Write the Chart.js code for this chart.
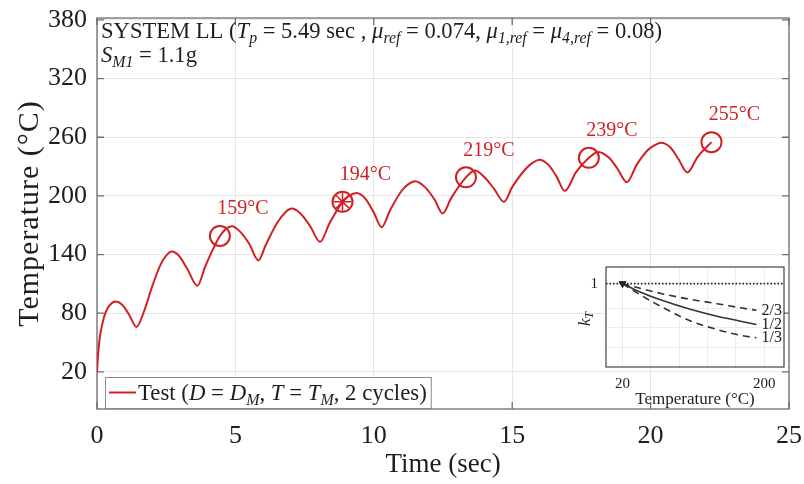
<!DOCTYPE html>
<html><head><meta charset="utf-8">
<script src="https://cdn.jsdelivr.net/npm/chart.js@4.4.1/dist/chart.umd.min.js"></script>
<style>
html,body{margin:0;padding:0;background:#fff;}
#wrap{position:relative;width:804px;height:484px;overflow:hidden;}
#main{position:absolute;left:0;top:0;}
#inset{position:absolute;left:560px;top:258px;}
</style></head><body>
<div id="wrap"><canvas id="main" width="804" height="484"></canvas><canvas id="inset" width="234" height="160"></canvas></div>
<script>
// ---- data ----
const timeSec = [0, 0.04, 0.1, 0.2, 0.3, 0.45, 0.67, 0.9, 1.15, 1.43,
  1.7, 2.0, 2.3, 2.5, 2.7, 2.95, 3.25, 3.63,
  3.9, 4.2, 4.44, 4.65, 4.87, 5.15, 5.5, 5.83,
  6.1, 6.5, 6.8, 7.03, 7.35, 7.7, 8.06,
  8.4, 8.87, 9.1, 9.38, 9.7, 10.0, 10.28,
  10.6, 11.0, 11.25, 11.5, 11.85, 12.2, 12.49,
  12.8, 13.33, 13.66, 14.0, 14.35, 14.7,
  15.0, 15.5, 15.75, 15.98, 16.3, 16.6, 16.9,
  17.3, 17.77, 18.11, 18.5, 18.8, 19.14,
  19.5, 19.9, 20.15, 20.38, 20.7, 21.0, 21.33,
  21.7, 22.2];
const tempC = [20, 38, 55, 70, 80, 88, 92, 89, 79, 66,
  82, 108, 130, 139, 143, 139, 126, 108,
  127, 146, 159, 166, 169, 164, 151, 134,
  150, 172, 183, 187, 182, 169, 153,
  172, 194, 200, 203, 197, 183, 168,
  186, 205, 212, 215, 209, 196, 182,
  198, 219, 226, 219, 207, 194,
  209, 228, 234, 237, 232, 220, 205,
  224, 239, 245, 239, 228, 214,
  232, 247, 252, 254.5, 250, 238, 224,
  240, 255];
const markerTimes = [4.44, 8.87, 13.33, 17.77, 22.2];
const markerTemps = [159, 194, 219, 239, 255];
const markerLabels = ['159°C', '194°C', '219°C', '239°C', '255°C'];
const starIndex = 1;
const yTicks = [20, 80, 140, 200, 260, 320, 380];
const xTicks = [0, 5, 10, 15, 20, 25];
const legendLabel = 'Test (D = D_M, T = T_M, 2 cycles)';

// inset (k_T vs temperature)
const insetTemp = [20, 40, 70, 107, 140, 170, 190];
const kTTwoThirds = [1, 0.975, 0.94, 0.905, 0.88, 0.855, 0.84];
const kTHalf = [1, 0.955, 0.9, 0.845, 0.805, 0.775, 0.755];
const kTOneThird = [1, 0.94, 0.86, 0.775, 0.725, 0.69, 0.675];
const insetCurveLabels = ['2/3', '1/2', '1/3'];
const insetXTicks = [20, 56, 92, 128, 164, 200];
const insetYTicks = [0.62, 0.735, 0.85, 1];

const RED = '#d02024';
const SERIF = '"Liberation Serif", "Times New Roman", serif';
const TXT = '#1e1e1e';

function richText(ctx, x, y, runs, size) {
  for (const [t, st] of runs) {
    const sub = st === 'sub' || st === 'subi';
    const it = st === 'i' || st === 'subi';
    const fs = sub ? size * 0.7 : size;
    ctx.font = (it ? 'italic ' : '') + fs + 'px ' + SERIF;
    ctx.fillText(t, x, sub ? y + size * 0.22 : y);
    x += ctx.measureText(t).width;
  }
  return x;
}

const mainPlugin = {
  id: 'mainDecor',
  beforeDatasetsDraw(chart) {
    const {ctx, chartArea: a} = chart;
    ctx.save();
    ctx.strokeStyle = '#6e6e6e';
    ctx.lineWidth = 1.3;
    ctx.strokeRect(a.left, a.top, a.right - a.left, a.bottom - a.top);
    const xs = chart.scales.x, ys = chart.scales.y;
    ctx.beginPath();
    xTicks.forEach(v => {
      const p = xs.getPixelForValue(v);
      ctx.moveTo(p, a.bottom); ctx.lineTo(p, a.bottom - 7);
      ctx.moveTo(p, a.top); ctx.lineTo(p, a.top + 7);
    });
    yTicks.forEach(v => {
      const p = ys.getPixelForValue(v);
      ctx.moveTo(a.left, p); ctx.lineTo(a.left + 7, p);
      ctx.moveTo(a.right, p); ctx.lineTo(a.right - 7, p);
    });
    ctx.stroke();
    ctx.restore();
  },
  afterDraw(chart) {
    const {ctx, chartArea: a} = chart;
    const xs = chart.scales.x, ys = chart.scales.y;
    ctx.save();
    ctx.fillStyle = TXT;
    ctx.textBaseline = 'alphabetic';
    richText(ctx, 101, 38, [['SYSTEM LL (', 'n'], ['T', 'i'], ['p', 'subi'], [' = 5.49 sec , ', 'n'],
      ['μ', 'i'], ['ref', 'subi'], [' = 0.074, ', 'n'], ['μ', 'i'], ['1,ref', 'subi'], [' = ', 'n'],
      ['μ', 'i'], ['4,ref', 'subi'], [' = 0.08)', 'n']], 22.6);
    richText(ctx, 101, 62, [['S', 'i'], ['M1', 'subi'], [' = 1.1g', 'n']], 22.6);
    ctx.fillStyle = RED;
    ctx.font = '20px ' + SERIF;
    ctx.textAlign = 'center';
    ctx.textBaseline = 'middle';
    markerTimes.forEach((t, i) => {
      ctx.fillText(markerLabels[i], xs.getPixelForValue(t) + 23, ys.getPixelForValue(markerTemps[i]) - 27);
    });
    ctx.fillStyle = TXT;
    ctx.font = '27px ' + SERIF;
    ctx.fillText('Time (sec)', (a.left + a.right) / 2, 465);
    ctx.save();
    ctx.translate(30, (a.top + a.bottom) / 2);
    ctx.rotate(-Math.PI / 2);
    ctx.font = '30px ' + SERIF;
    ctx.letterSpacing = '1px';
    ctx.fillText('Temperature (°C)', 0, 0);
    ctx.restore();
    ctx.textAlign = 'left';
    ctx.textBaseline = 'alphabetic';
    const lx = 105, ly = 377, lh = 31;
    const tmp = document.createElement('canvas').getContext('2d');
    const runs = [['Test (', 'n'], ['D', 'i'], [' = ', 'n'], ['D', 'i'], ['M', 'subi'], [', ', 'n'],
      ['T', 'i'], [' = ', 'n'], ['T', 'i'], ['M', 'subi'], [', 2 cycles)', 'n']];
    const endX = richText(tmp, 138, 0, runs, 22.8);
    ctx.fillStyle = '#fff';
    ctx.fillRect(lx, ly, endX + 4 - lx, lh);
    ctx.strokeStyle = '#8a8a8a';
    ctx.lineWidth = 1;
    ctx.strokeRect(lx + 0.5, ly + 0.5, endX + 4 - lx, lh);
    ctx.strokeStyle = RED;
    ctx.lineWidth = 2;
    ctx.beginPath(); ctx.moveTo(109, ly + lh / 2); ctx.lineTo(136, ly + lh / 2); ctx.stroke();
    ctx.fillStyle = TXT;
    richText(ctx, 138, ly + lh / 2 + 7, runs, 22.8);
    ctx.restore();
  }
};

new Chart(document.getElementById('main').getContext('2d'), {
  type: 'line',
  data: {
    datasets: [
      {
        label: legendLabel,
        data: timeSec.map((t, i) => ({x: t, y: tempC[i]})),
        borderColor: RED, borderWidth: 2, pointRadius: 0,
        cubicInterpolationMode: 'monotone', fill: false
      },
      {
        label: 'peaks',
        data: markerTimes.map((t, i) => ({x: t, y: markerTemps[i]})),
        showLine: false, pointStyle: 'circle', pointRadius: 10,
        pointBorderColor: RED, pointBorderWidth: 2, pointBackgroundColor: 'rgba(0,0,0,0)'
      },
      {
        label: 'star',
        data: [{x: markerTimes[starIndex], y: markerTemps[starIndex]}],
        showLine: false, pointStyle: 'star', pointRadius: 9,
        pointBorderColor: RED, pointBorderWidth: 1.5, pointBackgroundColor: 'rgba(0,0,0,0)'
      }
    ]
  },
  options: {
    responsive: false, animation: false, events: [],
    layout: {padding: {left: 0, right: 15, top: 18, bottom: 0}},
    plugins: {legend: {display: false}, tooltip: {enabled: false}},
    scales: {
      x: {
        type: 'linear', min: 0, max: 25,
        afterBuildTicks: s => { s.ticks = xTicks.map(v => ({value: v})); },
        afterFit: s => { s.height = 75; s.paddingLeft = 0; s.paddingRight = 0; },
        grid: {color: '#e6e6e6', drawTicks: false, tickLength: 0},
        border: {display: false},
        ticks: {font: {family: SERIF, size: 26}, color: TXT, padding: 12, maxRotation: 0}
      },
      y: {
        type: 'linear', min: -18, max: 382,
        afterBuildTicks: s => { s.ticks = yTicks.map(v => ({value: v})); },
        afterFit: s => { s.width = 97; s.paddingTop = 0; s.paddingBottom = 0; },
        grid: {color: '#e6e6e6', drawTicks: false, tickLength: 0},
        border: {display: false},
        ticks: {font: {family: SERIF, size: 26}, color: TXT, padding: 10}
      }
    }
  },
  plugins: [mainPlugin]
});

const insetPlugin = {
  id: 'insetDecor',
  beforeDraw(chart) {
    const {ctx, chartArea: a} = chart;
    ctx.save();
    ctx.fillStyle = '#fff';
    ctx.fillRect(a.left, a.top, a.right - a.left, a.bottom - a.top);
    ctx.restore();
  },
  afterDraw(chart) {
    const {ctx, chartArea: a} = chart;
    const xs = chart.scales.x, ys = chart.scales.y;
    ctx.save();
    ctx.strokeStyle = '#444';
    ctx.lineWidth = 1.2;
    ctx.strokeRect(a.left, a.top, a.right - a.left, a.bottom - a.top);
    ctx.fillStyle = TXT;
    ctx.font = '16px ' + SERIF;
    ctx.textBaseline = 'middle';
    ctx.textAlign = 'left';
    const ends = [kTTwoThirds, kTHalf, kTOneThird];
    const lastT = insetTemp[insetTemp.length - 1];
    ends.forEach((arr, i) => {
      ctx.fillText(insetCurveLabels[i], xs.getPixelForValue(lastT) + 5, ys.getPixelForValue(arr[arr.length - 1]));
    });
    ctx.textAlign = 'center';
    ctx.font = '17px ' + SERIF;
    ctx.fillText('Temperature (°C)', (a.left + a.right) / 2, 142);
    ctx.save();
    ctx.translate(26, (a.top + a.bottom) / 2 + 2);
    ctx.rotate(-Math.PI / 2);
    ctx.textAlign = 'left';
    const w = richText(document.createElement('canvas').getContext('2d'), 0, 0, [['k', 'i'], ['T', 'subi']], 17);
    richText(ctx, -w / 2, 0, [['k', 'i'], ['T', 'subi']], 17);
    ctx.restore();
    ctx.restore();
  }
};

new Chart(document.getElementById('inset').getContext('2d'), {
  type: 'line',
  data: {
    datasets: [
      {data: [{x: -1, y: 1}, {x: 225, y: 1}], borderColor: '#222', borderWidth: 1.6, borderDash: [1.5, 2], pointRadius: 0},
      {data: insetTemp.map((t, i) => ({x: t, y: kTTwoThirds[i]})), borderColor: '#333', borderWidth: 1.6, borderDash: [7, 5], pointRadius: 0, cubicInterpolationMode: 'monotone'},
      {data: insetTemp.map((t, i) => ({x: t, y: kTHalf[i]})), borderColor: '#333', borderWidth: 1.6, pointRadius: 0, cubicInterpolationMode: 'monotone'},
      {data: insetTemp.map((t, i) => ({x: t, y: kTOneThird[i]})), borderColor: '#333', borderWidth: 1.6, borderDash: [7, 5], pointRadius: 0, cubicInterpolationMode: 'monotone'},
      {data: [{x: 20, y: 1}], showLine: false, pointStyle: 'triangle', pointRadius: 4, rotation: -60, pointBackgroundColor: '#222', pointBorderColor: '#222'}
    ]
  },
  options: {
    responsive: false, animation: false, events: [],
    layout: {padding: {left: 0, right: 10, top: 9, bottom: 0}},
    plugins: {legend: {display: false}, tooltip: {enabled: false}},
    scales: {
      x: {
        type: 'linear', min: -1, max: 225,
        afterBuildTicks: s => { s.ticks = insetXTicks.map(v => ({value: v})); },
        afterFit: s => { s.height = 51; s.paddingLeft = 0; s.paddingRight = 0; },
        grid: {color: '#ececec', drawTicks: false, tickLength: 0},
        border: {display: false},
        ticks: {font: {family: SERIF, size: 15}, color: TXT, padding: 8, maxRotation: 0,
          callback: v => (v === 20 || v === 200) ? String(v) : ''}
      },
      y: {
        type: 'linear', min: 0.5, max: 1.1,
        afterBuildTicks: s => { s.ticks = insetYTicks.map(v => ({value: v})); },
        afterFit: s => { s.width = 46; s.paddingTop = 0; s.paddingBottom = 0; },
        grid: {color: '#ececec', drawTicks: false, tickLength: 0},
        border: {display: false},
        ticks: {font: {family: SERIF, size: 15}, color: TXT, padding: 8,
          callback: v => v === 1 ? '1' : ''}
      }
    }
  },
  plugins: [insetPlugin]
});
</script>
</body></html>
